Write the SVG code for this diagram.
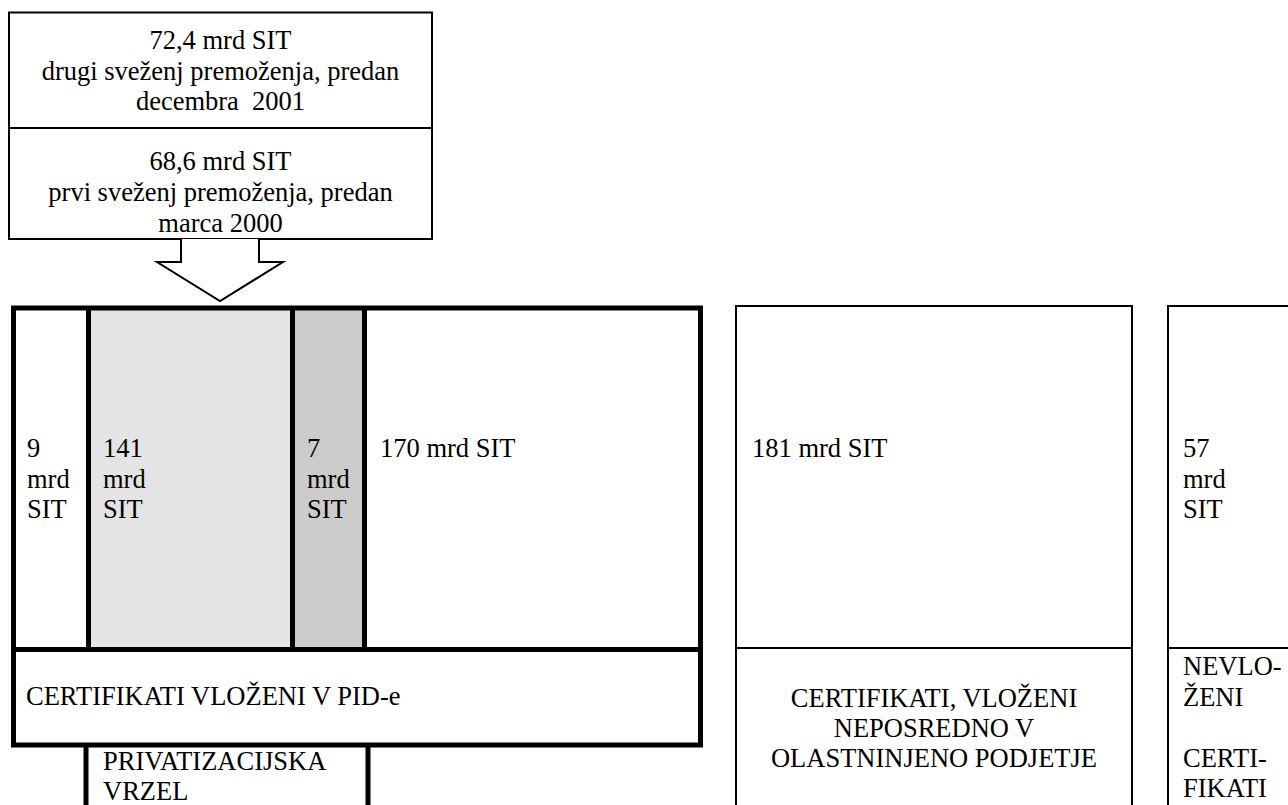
<svg xmlns="http://www.w3.org/2000/svg" width="1288" height="805" viewBox="0 0 1288 805" font-family="'Liberation Serif', 'DejaVu Serif', serif">
<style>
text{font-family:'Liberation Serif','DejaVu Serif',serif;font-size:26.5px;fill:#000}
.c{text-anchor:middle}
.thin{fill:none;stroke:#000;stroke-width:2}
.thick{fill:none;stroke:#000;stroke-width:5}
</style>
<rect width="1288" height="805" fill="#fff"/>
<g id="top-box">
<rect x="9" y="12.5" width="423" height="226.5" fill="#fff" stroke="#000" stroke-width="2"/>
<line x1="9" y1="128" x2="432" y2="128" class="thin"/>
<text class="c" x="220.5" y="49">72,4 mrd SIT</text>
<text class="c" x="220.5" y="80">drugi sveženj premoženja, predan</text>
<text class="c" x="220.5" y="110" xml:space="preserve">decembra  2001</text>
<text class="c" x="220.5" y="170">68,6 mrd SIT</text>
<text class="c" x="220.5" y="201">prvi sveženj premoženja, predan</text>
<text class="c" x="220.5" y="232">marca 2000</text>
</g>
<g id="connectors">
<polyline points="181,239 181,262 157,262 220,301 283,262 259,262 259,239" fill="#fff" stroke="#000" stroke-width="2"/>
</g>
<g id="pid-box">
<rect x="88.5" y="308" width="204" height="341.5" fill="#e4e4e4"/>
<rect x="292.5" y="308" width="72" height="341.5" fill="#cccccc"/>
<rect x="13.5" y="308" width="687" height="437" class="thick"/>
<line x1="88.5" y1="308" x2="88.5" y2="649.5" class="thick"/>
<line x1="292.5" y1="308" x2="292.5" y2="649.5" class="thick"/>
<line x1="364.5" y1="308" x2="364.5" y2="649.5" class="thick"/>
<line x1="13.5" y1="649.5" x2="700.5" y2="649.5" class="thick"/>
<text x="27" y="457">9</text>
<text x="27" y="488">mrd</text>
<text x="27" y="518">SIT</text>
<text x="103" y="457">141</text>
<text x="103" y="488">mrd</text>
<text x="103" y="518">SIT</text>
<text x="307" y="457">7</text>
<text x="307" y="488">mrd</text>
<text x="307" y="518">SIT</text>
<text x="380" y="457">170 mrd SIT</text>
<text x="26" y="705">CERTIFIKATI VLOŽENI V PID-e</text>
</g>
<g id="privatizacijska-vrzel">
<line x1="86" y1="745" x2="86" y2="806" class="thick"/>
<line x1="368" y1="745" x2="368" y2="806" class="thick"/>
<text x="103" y="770">PRIVATIZACIJSKA</text>
<text x="103" y="800">VRZEL</text>
</g>
<g id="direct-box">
<polyline points="736,806 736,306 1132,306 1132,806" class="thin"/>
<line x1="736" y1="648" x2="1132" y2="648" class="thin"/>
<text x="752" y="457">181 mrd SIT</text>
<text class="c" x="934" y="707">CERTIFIKATI, VLOŽENI</text>
<text class="c" x="934" y="737">NEPOSREDNO V</text>
<text class="c" x="934" y="767">OLASTNINJENO PODJETJE</text>
</g>
<g id="unused-box">
<polyline points="1168,806 1168,306 1290,306" class="thin"/>
<line x1="1168" y1="648" x2="1290" y2="648" class="thin"/>
<text x="1183" y="457">57</text>
<text x="1183" y="488">mrd</text>
<text x="1183" y="518">SIT</text>
<text x="1183" y="675">NEVLO-</text>
<text x="1183" y="706">ŽENI</text>
<text x="1183" y="767">CERTI-</text>
<text x="1183" y="797">FIKATI</text>
</g>
</svg>
